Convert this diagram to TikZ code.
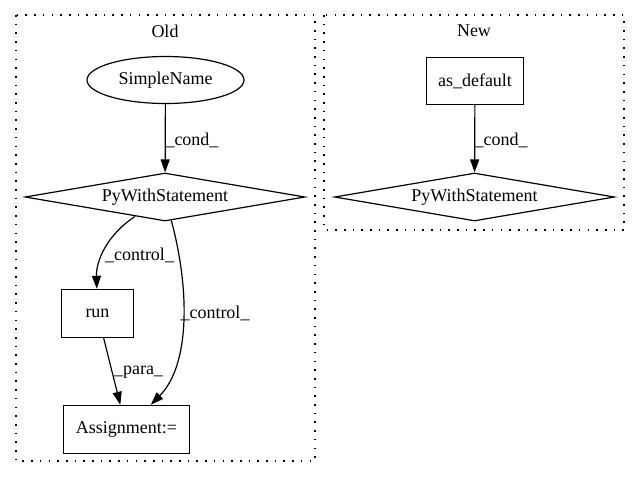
\documentclass[tikz,border=0pt]{standalone}
\usepackage{fontspec}
\setmainfont{Liberation Serif}
\usetikzlibrary{shapes.geometric,arrows.meta}
\begin{document}
\begin{tikzpicture}[x=1pt,y=-1pt,
  every node/.style={font=\fontsize{18}{21}\selectfont},
  box/.style={draw,line width=1.4pt,rectangle,inner sep=0pt,minimum height=48pt},
  ell/.style={draw,line width=1.2pt,ellipse,inner sep=0pt,minimum width=157pt,minimum height=47pt},
  dia/.style={draw,line width=1.2pt,diamond,aspect=5.83,inner sep=0pt,minimum width=280pt,minimum height=48pt},
  cluster/.style={draw,line width=1.3pt,dash pattern=on 1.6pt off 7.1pt},
  edge/.style={line width=1.2pt,-{Triangle[length=13pt,width=9pt]}},
  lbl/.style={inner sep=0pt}]
\useasboundingbox (0,0) rectangle (640,480);
% clusters
\draw[cluster] (16,15) rectangle (315,461);
\draw[cluster] (324,15) rectangle (624,230);
\node[lbl] (oldlbl) at (165,31) {Old};
\node[lbl] (newlbl) at (474,31) {New};
% old nodes
\node[ell] (sn) at (165.5,80) {SimpleName};
\node[dia] (pw1) at (165,197) {PyWithStatement};
\node[box,minimum width=72pt] (run) at (97.5,313.5) {run};
\node[box,minimum width=126pt] (asg) at (126.5,429.5) {Assignment:=};
% new nodes
\node[box,minimum width=97pt,minimum height=47pt] (asd) at (475,81) {as\_default};
\node[dia] (pw2) at (474.5,197) {PyWithStatement};
% edges
\draw[edge] (sn) -- (pw1);
\node[lbl] (l1) at (192,140) {\_cond\_};
\draw[edge] (asd) -- (pw2);
\node[lbl] (l2) at (501,140) {\_cond\_};
\draw[edge] (pw1) .. controls (108,234) and (96,260) .. (run);
\node[lbl] (l3) at (139.5,255) {\_control\_};
\draw[edge] (pw1) .. controls (190,290) and (190,365) .. (asg);
\node[lbl] (l4) at (215,313) {\_control\_};
\draw[edge] (run) -- (asg);
\node[lbl] (l5) at (138.5,372) {\_para\_};
\end{tikzpicture}
\end{document}
